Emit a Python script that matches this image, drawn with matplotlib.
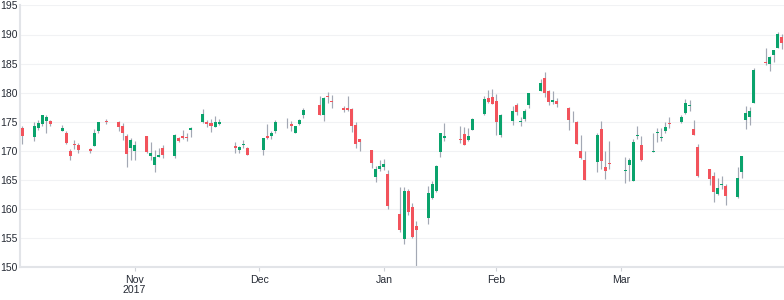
import matplotlib
matplotlib.use("Agg")
import matplotlib.pyplot as plt
import matplotlib.dates as mdates
import numpy as np
import pandas as pd

# ---- data (daily OHLC) ----
dates = [
    # Nov 2017
    "2017-11-03", "2017-11-06", "2017-11-07", "2017-11-08", "2017-11-09", "2017-11-10",
    "2017-11-13", "2017-11-14", "2017-11-15", "2017-11-16", "2017-11-17",
    "2017-11-20", "2017-11-21", "2017-11-22", "2017-11-24",
    "2017-11-27", "2017-11-28", "2017-11-29", "2017-11-30",
    # Dec 2017
    "2017-12-01", "2017-12-04", "2017-12-05", "2017-12-06", "2017-12-07", "2017-12-08",
    "2017-12-11", "2017-12-12", "2017-12-13", "2017-12-14", "2017-12-15",
    "2017-12-18", "2017-12-19", "2017-12-20", "2017-12-21", "2017-12-22",
    "2017-12-26", "2017-12-27", "2017-12-28", "2017-12-29",
    # Jan 2018
    "2018-01-02", "2018-01-03", "2018-01-04", "2018-01-05",
    "2018-01-08", "2018-01-09", "2018-01-10", "2018-01-11", "2018-01-12",
    "2018-01-16", "2018-01-17", "2018-01-18", "2018-01-19",
    "2018-01-22", "2018-01-23", "2018-01-24", "2018-01-25", "2018-01-26",
    "2018-01-29", "2018-01-30", "2018-01-31",
    # Feb 2018
    "2018-02-01", "2018-02-02",
    "2018-02-05", "2018-02-06", "2018-02-07", "2018-02-08", "2018-02-09",
    "2018-02-12", "2018-02-13", "2018-02-14", "2018-02-15", "2018-02-16",
    "2018-02-20", "2018-02-21", "2018-02-22", "2018-02-23",
    "2018-02-26", "2018-02-27", "2018-02-28",
    # Mar 2018
    "2018-03-01", "2018-03-02",
    "2018-03-05", "2018-03-06", "2018-03-07", "2018-03-08", "2018-03-09",
    "2018-03-12", "2018-03-13", "2018-03-14", "2018-03-15", "2018-03-16",
    "2018-03-19", "2018-03-20", "2018-03-21", "2018-03-22", "2018-03-23",
    "2018-03-26", "2018-03-27", "2018-03-28", "2018-03-29",
    # Apr 2018
    "2018-04-02", "2018-04-03", "2018-04-04", "2018-04-05", "2018-04-06",
    "2018-04-09", "2018-04-10", "2018-04-11", "2018-04-12", "2018-04-13",
    "2018-04-16", "2018-04-17", "2018-04-18", "2018-04-19", "2018-04-20",
    "2018-04-23", "2018-04-24", "2018-04-25", "2018-04-26", "2018-04-27",
    "2018-04-30",
    # May 2018
    "2018-05-01", "2018-05-02", "2018-05-03", "2018-05-04",
    "2018-05-07", "2018-05-08", "2018-05-09", "2018-05-10", "2018-05-11",
]

open_ = [
    174.00, 172.37, 173.91, 174.66, 175.11, 175.11,
    173.50, 173.04, 169.97, 171.18, 171.04,
    170.29, 170.78, 173.36, 175.10,
    175.05, 174.30, 172.63, 170.43,
    169.95, 172.48, 169.06, 167.50, 169.03, 170.49,
    169.20, 172.15, 172.50, 172.40, 173.63,
    174.88, 175.03, 174.87, 174.17, 174.68,
    170.80, 170.10, 171.00, 170.52,
    170.16, 172.53, 172.54, 173.44,
    174.35, 174.55, 173.16, 174.59, 176.18,
    177.90, 176.15, 179.37, 178.61,
    177.30, 177.30, 177.25, 174.51, 172.00,
    170.16, 165.53, 166.87,
    167.17, 166.00,
    159.10, 154.83, 163.09, 160.29, 157.07,
    158.50, 161.95, 163.04, 169.79, 172.36,
    172.05, 172.83, 171.80, 173.67,
    176.35, 179.10, 179.26,
    178.54, 172.80,
    175.21, 177.91, 174.94, 175.48, 177.96,
    180.29, 182.59, 180.32, 178.50, 178.65,
    177.32, 175.24, 175.04, 170.00, 168.39,
    168.07, 173.68, 167.25, 167.81,
    166.64, 167.64, 164.88, 172.58, 170.97,
    169.88, 173.00, 172.23, 173.41, 174.78,
    175.03, 176.49, 177.81, 173.76, 170.60,
    166.83, 165.67, 162.62, 164.12, 164.00,
    162.13,
    166.41, 175.23, 175.88, 178.25,
    185.18, 184.99, 186.55, 187.74, 189.49,
]

high = [
    174.26, 174.99, 175.25, 176.24, 176.10, 175.38,
    174.50, 173.48, 170.32, 171.87, 171.39,
    170.56, 173.70, 175.00, 175.50,
    175.08, 174.87, 172.92, 172.14,
    171.67, 172.62, 171.52, 170.20, 170.44, 171.00,
    172.89, 172.39, 173.54, 173.13, 174.17,
    177.20, 175.39, 175.42, 176.02, 175.42,
    171.47, 170.78, 171.85, 170.59,
    172.30, 174.55, 173.47, 175.37,
    175.61, 175.06, 174.30, 175.49, 177.36,
    179.39, 179.25, 180.10, 179.58,
    177.78, 179.44, 177.30, 174.95, 172.00,
    170.16, 167.37, 168.44,
    168.62, 166.80,
    163.88, 163.72, 163.40, 161.00, 157.89,
    163.89, 164.75, 167.54, 173.09, 174.82,
    174.26, 174.12, 173.95, 175.65,
    179.39, 180.48, 180.62,
    179.78, 176.30,
    177.74, 178.25, 175.85, 177.12, 180.00,
    182.39, 183.50, 180.52, 180.24, 179.12,
    177.47, 176.80, 175.09, 172.68, 169.92,
    173.10, 175.15, 170.02, 171.75,
    168.94, 168.75, 172.01, 174.23, 172.48,
    173.09, 174.00, 173.92, 175.00, 175.84,
    176.19, 178.94, 178.82, 175.39, 171.22,
    166.92, 166.33, 165.42, 165.73, 164.33,
    167.26,
    169.20, 177.75, 177.50, 184.25,
    187.67, 186.22, 187.40, 190.37, 190.06,
]

low = [
    171.12, 171.72, 173.60, 174.33, 173.14, 174.27,
    173.40, 171.18, 168.38, 170.30, 169.64,
    169.56, 170.78, 173.05, 174.65,
    173.34, 171.86, 167.16, 168.44,
    168.50, 169.63, 168.40, 166.46, 168.91, 168.82,
    168.79, 171.46, 172.00, 171.65, 172.46,
    174.86, 174.09, 173.25, 174.10, 174.50,
    169.68, 169.71, 170.48, 169.22,
    169.26, 171.96, 172.08, 173.05,
    173.93, 173.41, 173.00, 174.49, 175.65,
    176.14, 175.07, 178.25, 177.41,
    176.60, 176.82, 173.20, 170.53, 170.06,
    167.07, 164.70, 166.50,
    166.76, 160.10,
    156.00, 154.00, 159.07, 155.03, 150.24,
    157.51, 161.65, 162.88, 169.00, 171.77,
    171.42, 171.01, 171.71, 173.54,
    176.21, 178.16, 178.05,
    172.66, 172.45,
    174.52, 176.13, 174.27, 175.07, 177.39,
    180.21, 179.24, 177.81, 178.07, 177.62,
    173.66, 174.94, 171.26, 168.60, 164.94,
    166.44, 166.92, 165.19, 166.90,
    164.47, 164.88, 164.77, 172.08, 168.20,
    169.85, 171.53, 171.70, 173.04, 173.85,
    174.83, 176.41, 176.88, 172.66, 165.43,
    164.09, 161.22, 162.41, 163.37, 160.63,
    161.84,
    165.27, 173.80, 174.44, 178.17,
    184.75, 183.67, 185.22, 187.65, 187.45,
]

close = [
    172.50, 174.25, 174.81, 176.24, 175.88, 174.67,
    173.97, 171.34, 169.08, 171.10, 170.15,
    169.98, 173.14, 174.96, 174.97,
    174.09, 173.07, 169.48, 171.85,
    171.05, 169.80, 169.64, 169.01, 169.32, 169.37,
    172.67, 171.70, 172.27, 172.22, 173.97,
    176.42, 174.54, 174.35, 175.01, 175.01,
    170.57, 170.60, 171.08, 169.23,
    172.26, 172.23, 173.03, 175.00,
    174.35, 174.33, 174.29, 175.28, 177.09,
    176.19, 179.10, 179.26, 178.46,
    177.00, 177.04, 174.22, 171.11, 171.51,
    167.96, 166.97, 167.43,
    167.78, 160.50,
    156.49, 163.03, 159.54, 155.15, 156.41,
    162.71, 164.34, 167.37, 172.99, 172.43,
    171.85, 171.07, 172.50, 175.50,
    178.97, 178.39, 178.12,
    175.00, 176.21,
    176.82, 176.67, 175.03, 176.94, 179.98,
    181.72, 179.97, 178.44, 178.65, 178.02,
    175.30, 175.24, 171.27, 168.85, 164.94,
    172.77, 168.34, 166.48, 167.78,
    166.68, 168.39, 171.61, 172.80, 168.38,
    170.05, 173.25, 172.44, 174.14, 174.73,
    175.82, 178.24, 177.84, 172.80, 165.72,
    165.24, 162.94, 163.65, 164.22, 162.32,
    165.26,
    169.10, 176.57, 176.89, 183.83,
    185.16, 186.05, 187.36, 190.04, 188.59,
]

tick_dates = ["2017-12-01", "2018-01-01", "2018-02-01", "2018-03-01", "2018-04-01"]
tick_labels = ["Nov\n2017", "Dec", "Jan", "Feb", "Mar"]
y_ticks = [150, 155, 160, 165, 170, 175, 180, 185, 190, 195]

assert len(dates) == len(open_) == len(high) == len(low) == len(close)

# ---- style ----
GREEN = "#0aa36c"
RED = "#f2535c"
WICK = "#a3a8b4"
TEXT = "#262b35"
AXIS = "#e2e4e8"
GRID = "#f1f2f4"

W, H = 784, 300
fig = plt.figure(figsize=(W / 100, H / 100), dpi=100)
left_px, right_px, top_px, bottom_px = 20, 784, 5.4, 267.3
ax = fig.add_axes([left_px / W, (H - bottom_px) / H,
                   (right_px - left_px) / W, (bottom_px - top_px) / H])

x = mdates.date2num(pd.to_datetime(dates))
o = np.array(open_)
h = np.array(high)
l = np.array(low)
c = np.array(close)

ax.vlines(x, l, h, color=WICK, lw=0.85, zorder=2)

colors = np.where(c > o, GREEN, np.where(c < o, RED, WICK))
mask = c != o
lo = np.minimum(o, c)
hi = np.maximum(o, c)
mid = (lo + hi) / 2
hgt = np.maximum(hi - lo, 0.2)
ax.bar(x[mask], hgt[mask], bottom=(mid - hgt / 2)[mask], width=0.75,
       color=colors[mask], linewidth=0, zorder=3)

ax.set_xlim(mdates.date2num(pd.Timestamp("2017-11-02 12:00")),
            mdates.date2num(pd.Timestamp("2018-05-11 12:00")))
ax.set_ylim(150, 195)

ax.set_yticks(y_ticks)
ax.set_yticklabels([str(v) for v in y_ticks])
ax.set_xticks(mdates.date2num(pd.to_datetime(tick_dates)))
ax.set_xticklabels(tick_labels, linespacing=1.05)

for sp in ["top", "right"]:
    ax.spines[sp].set_visible(False)
for sp in ["left", "bottom"]:
    ax.spines[sp].set_color(AXIS)
    ax.spines[sp].set_linewidth(1.5)

ax.grid(axis="y", color=GRID, lw=0.8, zorder=0)
ax.set_axisbelow(True)

ax.tick_params(axis="y", length=0, pad=2.0, labelsize=7.5, labelcolor=TEXT)
ax.tick_params(axis="x", length=3, width=0.8, color="#cfd2d8", pad=2.5,
               labelsize=7.6, labelcolor=TEXT)
for lab in ax.get_xticklabels() + ax.get_yticklabels():
    lab.set_fontfamily("Liberation Sans")
    lab.set_fontweight("medium")

fig.savefig("out.png", dpi=100)
